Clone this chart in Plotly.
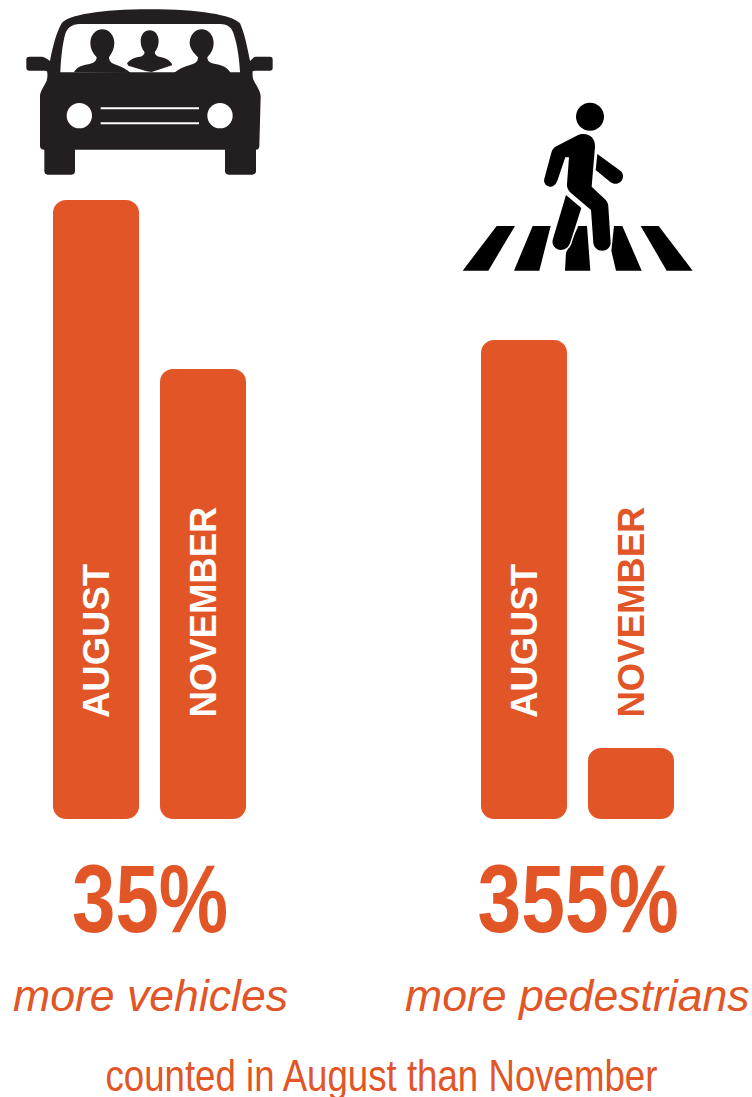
import json
import re
import plotly.graph_objects as go

# Bar heights per group, August then November, in index units
months = ["AUGUST", "NOVEMBER"]
vehicle_counts = [619, 450]
pedestrian_counts = [479, 71]
slots = [0, 1, 4, 5]
percent_labels = ["35%", "355%"]
group_labels = ["more vehicles", "more pedestrians"]
footer = "counted in August than November"

ORANGE = "#E25526"
INK = "#231F20"
W, H = 752, 1097
SLOT = 107
ORIGIN = 96
BASE_PX = 819
values = vehicle_counts + pedestrian_counts
labels = months + months

# Rendered widths for the condensed display lines, no narrow face being installed
condensed_widths = {percent_labels[0]: 156, percent_labels[1]: 201, footer: 552}

fig = go.Figure()
# An explicit base makes the corner radius apply to both ends of each bar
fig.add_bar(x=slots, y=values, base=0, width=0.804,
            marker=dict(color=ORANGE, cornerradius=13, line_width=0), hoverinfo="skip")


def note(px, y, text, size, color=ORANGE, angle=0, yanchor="middle", bold=False, italic=False):
    fig.add_annotation(x=(px - ORIGIN) / SLOT, y=y, xref="x", yref="y", text=text, showarrow=False,
                       textangle=angle, xanchor="center", yanchor=yanchor, borderpad=0,
                       font=dict(size=size, color=color, family="Liberation Sans",
                                 weight="bold" if bold else "normal",
                                 style="italic" if italic else "normal"))


# Month names run up the bars from a shared starting height
for slot, month, value in zip(slots, labels, values):
    inside = value > 300
    note(ORIGIN + slot * SLOT, 100, month, 36.5, "white" if inside else ORANGE,
         angle=-90, yanchor="bottom", bold=True)

note(150, -79, percent_labels[0], 97, bold=True)
note(577.5, -79, percent_labels[1], 97, bold=True)
note(150, -176, group_labels[0], 44.6, italic=True)
note(577.5, -176, group_labels[1], 44.6, italic=True)
note(381, -256, footer, 44)


# Icons are authored on a 3x grid and drawn on a hidden overlay axis pair
def shift(path, dx, dy):
    def move(match):
        return f"{float(match.group(1)) + dx},{float(match.group(2)) + dy}"
    return re.sub(r"(-?[\d.]+)[ ,](-?[\d.]+)", move, path)


def ellipse(cx, cy, rx, ry=None):
    ry = rx if ry is None else ry
    k = 0.5523
    return (f"M{cx - rx},{cy} C{cx - rx},{cy - k * ry} {cx - k * rx},{cy - ry} {cx},{cy - ry} "
            f"C{cx + k * rx},{cy - ry} {cx + rx},{cy - k * ry} {cx + rx},{cy} "
            f"C{cx + rx},{cy + k * ry} {cx + k * rx},{cy + ry} {cx},{cy + ry} "
            f"C{cx - k * rx},{cy + ry} {cx - rx},{cy + k * ry} {cx - rx},{cy} Z")


def icon(path, fill, edge=None, edge_width=0):
    fig.add_shape(type="path", path=path, xref="x2", yref="y2", fillcolor=fill, layer="above",
                  line=dict(color=edge or fill, width=edge_width))


car_body = ("M185,70 C205,45 300,28 450,28 C600,28 695,45 720,70 C732,95 742,140 750,183 L762,172 "
            "C764,170 770,170 775,170 L810,170 C816,170 818,174 818,178 L818,204 C818,210 815,212 810,212 "
            "L765,212 L758,214 C757,225 758,235 762,243 C770,258 782,275 782,290 L778,438 C778,445 775,449 768,449 "
            "L768,514 C768,520 763,524 757,524 L686,524 C679,524 675,520 675,514 L675,449 L225,449 L225,514 "
            "C225,520 221,524 215,524 L143,524 C137,524 133,520 133,514 L133,449 C125,449 120,445 120,438 "
            "L120,285 C122,272 132,258 139,245 C143,235 143,222 141,214 L135,212 L88,212 C82,212 79,209 79,204 "
            "L79,178 C79,173 82,170 88,170 L125,170 C132,170 140,175 150,183 C158,140 170,95 185,70 Z")
windshield = ("M181,217 C183,170 188,130 195,105 C200,85 215,72 240,72 L660,72 C685,72 697,85 702,105 "
              "C712,135 718,175 720,217 Z")
person_left = ("M222,217 C230,203 240,197 265,193 C282,190 290,182 290,172 C278,160 271,145 271,130 "
               "C271,105 287,88 307,88 C327,88 343,105 343,130 C343,145 336,160 327,172 C327,182 332,190 350,195 "
               "C365,200 380,208 392,219 Z")
person_right = ("M522,219 C535,208 550,200 570,195 C590,190 594,182 594,172 C582,160 569,145 569,130 "
                "C569,105 585,88 605,88 C625,88 641,105 641,130 C641,145 634,160 622,172 C622,182 628,190 650,193 "
                "C670,197 682,203 692,219 Z")
person_middle = ("M381,190 C390,178 405,172 420,170 C430,168 435,160 433,155 C426,148 422,135 422,123 "
                 "C422,105 433,91 449,91 C465,91 476,105 476,123 C476,135 472,148 465,155 C463,160 468,168 478,170 "
                 "C495,173 510,180 516,192 L516,196 L455,216 L440,214 L385,197 Z")

icon(car_body, INK)
icon(windshield, "white")
for path in (person_left, person_right, person_middle):
    icon(path, INK)
icon(ellipse(238, 347, 38), "white")
icon(ellipse(660, 347, 38), "white")
for y in (325, 370):
    icon(f"M302,{y - 3} L597,{y - 3} L597,{y + 3} L302,{y + 3} Z", "white")

DX, DY = 1320, 240
stripes = [
    "M170,438 L225,438 L145,572 L68,572 Z",
    "M278,438 L332,438 L298,572 L222,572 Z",
    "M378,518 L415,438 L441,438 L451,572 L375,572 Z",
    "M522,438 L547,438 L605,572 L528,572 L514,512 Z",
    "M602,438 L656,438 L758,572 L680,572 Z",
]
back_leg = "M378,345 L424,384 L390,490 C384,505 372,511 360,510 C345,508 335,495 338,480 Z"
back_arm = "M472,222 L542,273 C552,282 551,298 541,306 C532,314 519,312 510,305 L467,270 Z"
torso = ("M430,162 C452,162 466,178 465,200 L455,320 L495,358 C502,365 505,372 505,380 L512,488 "
         "C512,502 500,512 487,512 C473,512 461,502 460,488 L453,390 L392,338 C384,330 380,322 381,312 "
         "L387,232 L376,232 L352,302 C347,315 338,321 329,320 C317,318 310,307 313,296 L334,218 "
         "C337,207 342,202 352,197 L413,166 C418,163 424,162 430,162 Z")

for stripe in stripes:
    icon(shift(stripe, DX, DY), "black")
# White halos sit under the limbs so the black silhouettes keep their full width
icon(shift(back_leg, DX, DY), "white", "white", 3)
icon(shift(back_leg, DX, DY), "black")
icon(shift(back_arm, DX, DY), "black")
icon(shift(torso, DX, DY), "white", "white", 3)
icon(shift(torso, DX, DY), "black")
icon(shift(ellipse(450, 110, 42), DX, DY), "black")

hidden = dict(visible=False, showgrid=False, zeroline=False, fixedrange=True)
fig.update_layout(
    width=W, height=H, margin=dict(l=0, r=0, t=0, b=0, pad=0),
    paper_bgcolor="white", plot_bgcolor="white", showlegend=False,
    xaxis=dict(hidden, range=[-ORIGIN / SLOT, (W - ORIGIN) / SLOT]),
    yaxis=dict(hidden, range=[BASE_PX - H, BASE_PX]),
    xaxis2=dict(hidden, range=[0, W * 3], overlaying="x"),
    yaxis2=dict(hidden, range=[H * 3, 0], overlaying="y"),
)
# An empty trace keeps the overlay axis pair alive
fig.add_scatter(x=[None], y=[None], xaxis="x2", yaxis="y2", hoverinfo="skip")

# Squeeze the display lines horizontally to their condensed widths
condense = """
var widths = %s;
document.querySelectorAll('.annotation-text').forEach(function (node) {
  var width = widths[node.textContent];
  if (width) {
    node.setAttribute('textLength', width);
    node.setAttribute('lengthAdjust', 'spacingAndGlyphs');
  }
});
""" % json.dumps(condensed_widths)
fig.write_html("out.html", config=dict(displayModeBar=False), post_script=condense)
